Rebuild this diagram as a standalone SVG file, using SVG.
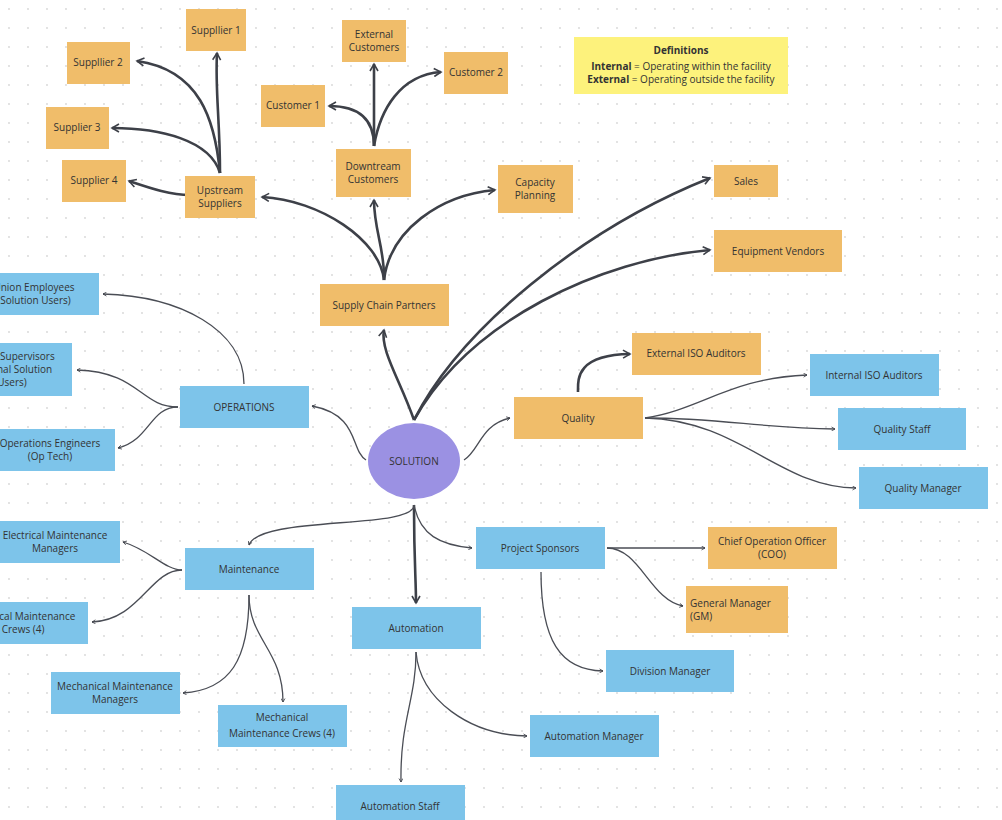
<svg xmlns="http://www.w3.org/2000/svg" width="1002" height="820" viewBox="0 0 1002 820">
<defs>
<pattern id="dots" width="19" height="19" patternUnits="userSpaceOnUse"><circle cx="9" cy="9" r="0.9" fill="#d6d6d6"/></pattern>
<marker id="a" viewBox="0 0 10 10" refX="8" refY="5" markerWidth="5" markerHeight="5" orient="auto-start-reverse" markerUnits="userSpaceOnUse"><path d="M1,1 L8,5 L1,9" fill="none" stroke="#3d4048" stroke-width="1.6"/></marker>
<marker id="b" viewBox="0 0 10 10" refX="8" refY="5" markerWidth="10" markerHeight="10" orient="auto-start-reverse" markerUnits="userSpaceOnUse"><path d="M1,1 L8,5 L1,9" fill="none" stroke="#3d4048" stroke-width="1.6"/></marker>
</defs>
<style>
.o{fill:#f0bd6a}.bl{fill:#7dc4ea}
text{font-family:"Open Sans","Liberation Sans",sans-serif;font-size:10px;fill:#333;text-anchor:middle}
text.s{text-anchor:start}
.t{fill:none;stroke:#3d4048;stroke-width:2.6;marker-end:url(#b)}
.n{fill:none;stroke:#4a4d55;stroke-width:1.3;marker-end:url(#a)}
</style>
<rect width="1002" height="820" fill="#fff"/>
<rect width="1002" height="820" fill="url(#dots)"/>
<g id="connectors">
<path class="t" d="M414,420 C400,380 380,350 384,330"/>
<path class="t" d="M384,280 C380,240 320,200 262,197"/>
<path class="t" d="M384,280 C385,250 374,230 374,200"/>
<path class="t" d="M384,280 C390,230 440,195 495,190"/>
<path class="t" d="M414,420 C460,330 580,230 710,178"/>
<path class="t" d="M414,420 C470,320 600,260 710,250"/>
<path class="t" d="M220,173 C220,120 215,90 217,53"/>
<path class="t" d="M220,173 C215,120 200,70 137,61"/>
<path class="t" d="M220,173 C210,140 160,128 112,128"/>
<path class="t" d="M190,195 C170,195 150,188 129,181"/>
<path class="t" d="M374,146 C374,110 374,90 374,64"/>
<path class="t" d="M374,146 C374,120 360,106 329,106"/>
<path class="t" d="M374,146 C380,110 400,75 441,72"/>
<path class="t" d="M578,392 C578,380 575,355 630,354"/>
<path class="t" d="M414,505 C414,560 416,580 416,603"/>
<path class="n" d="M244,384 C244,330 180,296 103,294"/>
<path class="n" d="M178,407 C140,407 140,372 77,370"/>
<path class="n" d="M178,407 C150,407 150,440 118,448"/>
<path class="n" d="M366,460 C350,450 360,415 312,406"/>
<path class="n" d="M464,460 C480,450 480,425 510,418"/>
<path class="n" d="M645,418 C700,410 730,378 807,375"/>
<path class="n" d="M645,418 C720,418 760,428 835,429"/>
<path class="n" d="M645,418 C740,420 780,488 856,488"/>
<path class="n" d="M414,505 C414,530 260,515 249,545"/>
<path class="n" d="M414,505 C420,535 440,545 472,548"/>
<path class="n" d="M182,570 C165,570 150,550 123,542"/>
<path class="n" d="M182,570 C150,570 140,620 92,622"/>
<path class="n" d="M249,595 C249,660 230,690 183,693"/>
<path class="n" d="M249,595 C249,640 283,650 283,702"/>
<path class="n" d="M416,652 C416,700 400,720 401,782"/>
<path class="n" d="M416,652 C420,700 470,735 527,736"/>
<path class="n" d="M607,548 C640,548 670,548 705,548"/>
<path class="n" d="M607,548 C640,548 650,600 683,606"/>
<path class="n" d="M541,572 C541,640 560,670 603,671"/>
</g>
<g id="supplier1"><rect class="o" x="186" y="9" width="60" height="42"/><text x="216" y="34">Suppllier 1</text></g>
<g id="supplier2"><rect class="o" x="67" y="42" width="63" height="42"/><text x="98" y="66">Suppllier 2</text></g>
<g id="supplier3"><rect class="o" x="46" y="107" width="63" height="42"/><text x="77" y="131">Supplier 3</text></g>
<g id="supplier4"><rect class="o" x="62" y="160" width="64" height="42"/><text x="94" y="184">Supplier 4</text></g>
<g id="upstream"><rect class="o" x="185" y="176" width="70" height="42"/><text x="220" y="194">Upstream</text><text x="220" y="207">Suppliers</text></g>
<g id="extcust"><rect class="o" x="342" y="20" width="64" height="42"/><text x="374" y="38">External</text><text x="374" y="51">Customers</text></g>
<g id="cust2"><rect class="o" x="444" y="52" width="64" height="42"/><text x="476" y="76">Customer 2</text></g>
<g id="cust1"><rect class="o" x="261" y="85" width="64" height="42"/><text x="293" y="109">Customer 1</text></g>
<g id="downstream"><rect class="o" x="336" y="149" width="75" height="48"/><text x="373" y="170">Downtream</text><text x="373" y="183">Customers</text></g>
<g id="capacity"><rect class="o" x="498" y="165" width="75" height="48"/><text x="535" y="186">Capacity</text><text x="535" y="199">Planning</text></g>
<g id="definitions"><rect x="574" y="37" width="214" height="57" fill="#fdf27c"/><text x="681" y="54" font-weight="bold">Definitions</text><text x="681" y="70"><tspan font-weight="bold">Internal</tspan> = Operating within the facility</text><text x="681" y="83"><tspan font-weight="bold">External</tspan> = Operating outside the facility</text></g>
<g id="sales"><rect class="o" x="714" y="165" width="64" height="32"/><text x="746" y="185">Sales</text></g>
<g id="vendors"><rect class="o" x="714" y="230" width="128" height="42"/><text x="778" y="255">Equipment Vendors</text></g>
<g id="supplychain"><rect class="o" x="320" y="284" width="129" height="42"/><text x="384" y="309">Supply Chain Partners</text></g>
<g id="union"><rect class="bl" x="-30" y="273" width="129" height="42"/><text x="34" y="291">Union Employees</text><text x="34" y="304">(Solution Users)</text></g>
<g id="supervisors"><rect class="bl" x="-57" y="343" width="129" height="53"/><text x="12" y="360">Union Supervisors</text><text x="12" y="373">(Internal Solution</text><text x="12" y="386">Users)</text></g>
<g id="openg"><rect class="bl" x="-14" y="429" width="129" height="42"/><text x="50" y="447">Operations Engineers</text><text x="50" y="460">(Op Tech)</text></g>
<g id="operations"><rect class="bl" x="180" y="386" width="129" height="42"/><text x="244" y="411">OPERATIONS</text></g>
<g id="solution"><ellipse cx="414" cy="461" rx="46" ry="38" fill="#9b91e3"/><text x="414" y="465">SOLUTION</text></g>
<g id="quality"><rect class="o" x="514" y="397" width="129" height="42"/><text x="578" y="422">Quality</text></g>
<g id="extiso"><rect class="o" x="632" y="333" width="129" height="42"/><text x="696" y="357">External ISO Auditors</text></g>
<g id="intiso"><rect class="bl" x="810" y="354" width="129" height="42"/><text x="874" y="379">Internal ISO Auditors</text></g>
<g id="qstaff"><rect class="bl" x="838" y="408" width="128" height="42"/><text x="902" y="433">Quality Staff</text></g>
<g id="qmgr"><rect class="bl" x="859" y="467" width="129" height="42"/><text x="923" y="492">Quality Manager</text></g>
<g id="elecmgr"><rect class="bl" x="-9" y="521" width="129" height="42"/><text x="55" y="539">Electrical Maintenance</text><text x="55" y="552">Managers</text></g>
<g id="eleccrew"><rect class="bl" x="-41" y="602" width="129" height="42"/><text x="23" y="620">Electrical Maintenance</text><text x="23" y="633">Crews (4)</text></g>
<g id="maintenance"><rect class="bl" x="185" y="548" width="129" height="42"/><text x="249" y="573">Maintenance</text></g>
<g id="mechmgr"><rect class="bl" x="51" y="672" width="129" height="42"/><text x="115" y="690">Mechanical Maintenance</text><text x="115" y="703">Managers</text></g>
<g id="mechcrew"><rect class="bl" x="218" y="705" width="129" height="42"/><text x="282" y="721">Mechanical</text><text x="282" y="737">Maintenance Crews (4)</text></g>
<g id="automation"><rect class="bl" x="352" y="607" width="129" height="42"/><text x="416" y="632">Automation</text></g>
<g id="autostaff"><rect class="bl" x="336" y="785" width="129" height="42"/><text x="400" y="810">Automation Staff</text></g>
<g id="automgr"><rect class="bl" x="530" y="715" width="129" height="42"/><text x="594" y="740">Automation Manager</text></g>
<g id="sponsors"><rect class="bl" x="476" y="527" width="129" height="42"/><text x="540" y="552">Project Sponsors</text></g>
<g id="coo"><rect class="o" x="708" y="527" width="129" height="42"/><text x="772" y="545">Chief Operation Officer</text><text x="772" y="558">(COO)</text></g>
<g id="gm"><rect class="o" x="686" y="586" width="102" height="47"/><text class="s" x="690" y="607">General Manager</text><text class="s" x="690" y="620">(GM)</text></g>
<g id="divmgr"><rect class="bl" x="606" y="650" width="128" height="42"/><text x="670" y="675">Division Manager</text></g>
</svg>
